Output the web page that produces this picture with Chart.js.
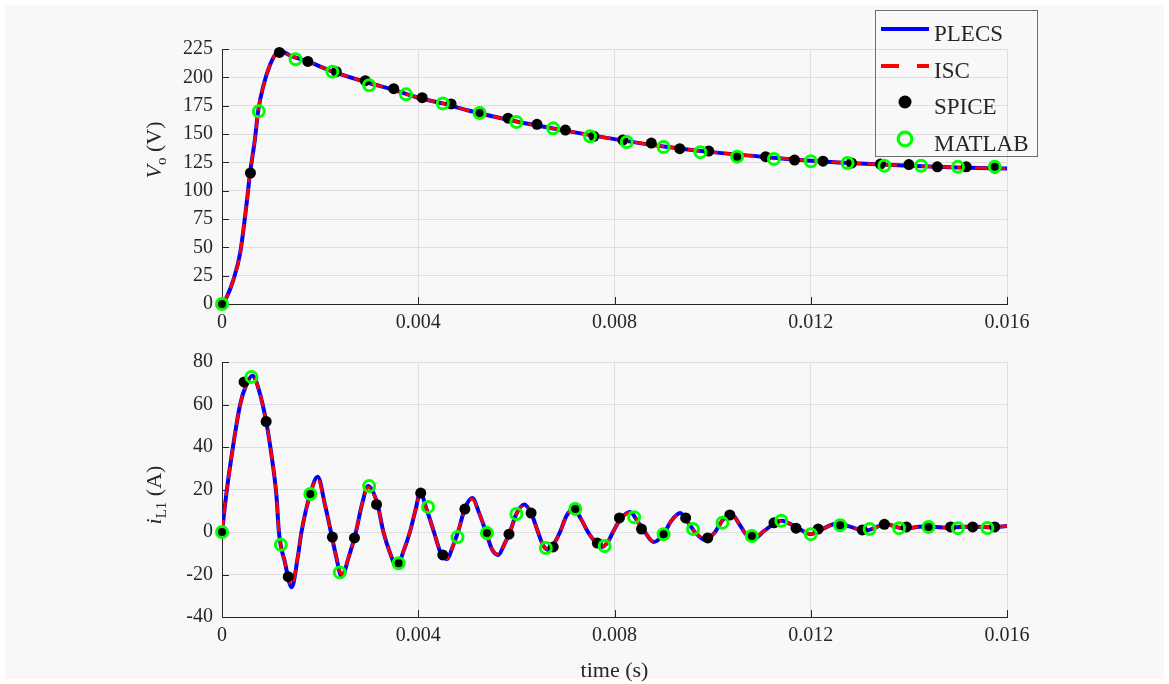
<!DOCTYPE html>
<html><head><meta charset="utf-8">
<script src="https://cdn.jsdelivr.net/npm/chart.js@4.4.1/dist/chart.umd.min.js"></script>
<style>
html,body{margin:0;padding:0;background:#fff;}
#wrap{position:relative;width:1169px;height:684px;overflow:hidden;}
canvas{position:absolute;left:0;}
#c1{top:0;} #c2{top:340px;}
</style></head><body>
<div id="wrap"><canvas id="c1" width="1169" height="340"></canvas><canvas id="c2" width="1169" height="344"></canvas></div>
<script>
// ---------- DATA ----------
// x tick labels
const xTicks = [0, 0.004, 0.008, 0.012, 0.016];
// --- Top panel: Vo (V)
const tPlecsVo = [0,0.0001,0.00023,0.00037,0.0005,0.00057,0.00067,0.00074,0.00084,0.00098,0.00111,0.0012,0.0014,0.00175,0.0022,0.003,0.0035,0.004,0.0045,0.005,0.006,0.007,0.008,0.009,0.010,0.011,0.012,0.013,0.014,0.015,0.016];
const plecsVo  = [0,6.5,21,45,88,115,145,171,192,211,221.5,223,219,214,206,195,189,182,177,171,161,153,145.5,139,134,130,126.5,124,122,120.5,119.5];
const tIscVo   = [0,0.0001,0.00023,0.00037,0.0005,0.00057,0.00067,0.00074,0.00084,0.00098,0.00111,0.0012,0.0014,0.00175,0.0022,0.003,0.0035,0.004,0.0045,0.005,0.006,0.007,0.008,0.009,0.010,0.011,0.012,0.013,0.014,0.015,0.016];
const iscVo    = [0,6.5,21,45,88,115,145,171,192,211,221.5,223,219,214,206,195,189,182,177,171,161,153,145.5,139,134,130,126.5,124,122,120.5,119.5];
const tSpiceVo = [0,0.00058,0.00117,0.00175,0.00233,0.00292,0.0035,0.00408,0.00467,0.00525,0.00583,0.00642,0.007,0.00758,0.00817,0.00875,0.00933,0.00992,0.0105,0.01108,0.01167,0.01225,0.01283,0.01342,0.014,0.01458,0.01517,0.01575];
const spiceVo  = [0,115.6,222,214,205,197,190,182,176.5,169.5,164,158.5,153.5,148,144.7,142,137,135,130,130,127,126,124.4,123.5,123,121,121,120];
const tMatlabVo = [0,0.00075,0.0015,0.00225,0.003,0.00375,0.0045,0.00525,0.006,0.00675,0.0075,0.00825,0.009,0.00975,0.0105,0.01125,0.012,0.01275,0.0135,0.01425,0.015,0.01575];
const matlabVo  = [0,170,216,205,193,185,177,168.5,160.6,155,148,143,138.5,134,130,128,126,124.4,122,122,121,121];
// --- Bottom panel: iL1 (A)
const tPlecsIL = [0,0.0001,0.00023,0.00037,0.00049,0.00062,0.00075,0.0009,0.00101,0.00111,0.00116,0.00128,0.00142,0.00155,0.00162,0.0018,0.00195,0.0021,0.00222,0.00232,0.00244,0.00258,0.00273,0.00285,0.00298,0.00317,0.00329,0.00344,0.00356,0.0037,0.00383,0.00394,0.00404,0.00418,0.00432,0.00446,0.00459,0.0047,0.00481,0.00495,0.0051,0.00524,0.00538,0.0055,0.00563,0.00575,0.00587,0.006,0.00616,0.0063,0.00644,0.00655,0.00667,0.00678,0.00689,0.00702,0.00717,0.00732,0.00746,0.00762,0.00775,0.00787,0.00797,0.00812,0.00832,0.00847,0.00862,0.0088,0.009,0.00915,0.00934,0.0095,0.00964,0.00985,0.01005,0.0102,0.0104,0.01055,0.01068,0.01086,0.01105,0.0114,0.01174,0.01199,0.0122,0.01254,0.0128,0.01311,0.01353,0.0139,0.0143,0.0148,0.0153,0.0157,0.016];
const plecsIL  = [0,20,41,60,69,73.5,67,52,36,17,0,-14,-26,-11,0,18,26,12.7,0,-10.8,-21,-12,0,12.7,21.6,13,0,-10.8,-16.5,-9,0,10,18.3,10,0,-10,-12.7,-7,0,11,16,9,0,-8,-10.8,-6,0,8.5,13,9,0,-6.5,-8.5,-5,0,7.5,10.8,6,0,-5,-7,-4.5,0,6,9.4,5,0,-4.7,-1,5,8.9,4.5,0,-3.8,0,5.5,8,3.5,-1,-2.8,0.5,5.3,1.8,-1,1,4,2.5,0.6,3.6,1.6,2.6,2.0,2.6,2.2,2.8];
const tIscIL   = tPlecsIL.slice();
const iscIL    = [0,20,41,60,69,73,67,52,36,17,0,-14,-25,-11,0,18,25,12.7,0,-10.8,-20,-12,0,12.7,21,13,0,-10.8,-16,-9,0,10,18,10,0,-10,-12.5,-7,0,11,15.5,9,0,-8,-10.5,-6,0,8.5,12.5,9,0,-6.5,-8.3,-5,0,7.5,10.5,6,0,-5,-6.8,-4.5,0,6,9.2,5,0,-4.5,-1,5,8.7,4.5,0,-3.6,0,5.5,7.8,3.5,-1,-2.6,0.5,5.1,1.8,-0.9,1,3.9,2.5,0.7,3.5,1.7,2.6,2.0,2.6,2.2,2.8];
const tSpiceIL = [0,0.00045,0.0009,0.00135,0.0018,0.00225,0.0027,0.00315,0.0036,0.00405,0.0045,0.00495,0.0054,0.00585,0.0063,0.00675,0.0072,0.00765,0.0081,0.00855,0.009,0.00945,0.0099,0.01035,0.0108,0.01125,0.0117,0.01215,0.0126,0.01305,0.0135,0.01395,0.0144,0.01485,0.0153,0.01575];
const spiceIL  = [0,70.6,52,-21,17.9,-2.4,-2.8,13,-14.7,18.3,-10.8,10.8,-0.5,-1,8.9,-7,10.8,-5.2,6.6,1.4,-1,6.6,-2.8,8,-2,4.3,1.8,1.4,3.2,1,3.6,2.4,2.4,2.4,2.4,2.4];
const tMatlabIL = [0,0.0006,0.0012,0.0018,0.0024,0.003,0.0036,0.0042,0.0048,0.0054,0.006,0.0066,0.0072,0.0078,0.0084,0.009,0.0096,0.0102,0.0108,0.0114,0.012,0.0126,0.0132,0.0138,0.0144,0.015,0.0156];
const matlabIL  = [0,73,-6,17.9,-19,21.6,-14.7,11.8,-2.4,-0.5,8.5,-7.5,10.8,-6.6,7,-1,1.4,4.3,-1.9,5.3,-1,3.2,1.4,1.8,2.4,1.8,1.9];
// y tick ranges
const voTicks = {min:0, max:225, step:25};
const ilTicks = {min:-40, max:80, step:20};

// ---------- RENDERING ----------
const SERIF = "'Liberation Serif','DejaVu Serif',serif";
const TXT = '#262626';
const GRID = '#dedede';
const FIGBG = '#f8f8f8';
const xy = (ts, vs) => ts.map((t, i) => ({x: t, y: vs[i]}));

function seriesSets(tP, vP, tI, vI, tS, vS, tM, vM) {
  return [
    {label:'PLECS', data:xy(tP, vP), borderColor:'#0000ff', backgroundColor:'#0000ff', borderWidth:4, pointRadius:0, cubicInterpolationMode:'monotone', order:4},
    {label:'ISC', data:xy(tI, vI), borderColor:'#ff0000', backgroundColor:'#ff0000', borderWidth:3, borderDash:[12,6], pointRadius:0, cubicInterpolationMode:'monotone', order:3},
    {label:'SPICE', data:xy(tS, vS), showLine:false, borderColor:'#000', pointRadius:5.5, pointBackgroundColor:'#000000', pointBorderColor:'#000000', pointBorderWidth:0, order:2, clip:false},
    {label:'MATLAB', data:xy(tM, vM), showLine:false, borderColor:'#00ff00', pointRadius:5.5, pointBackgroundColor:'rgba(0,0,0,0)', pointBorderColor:'#00ff00', pointBorderWidth:3, order:1, clip:false}
  ];
}

const bgPlugin = (y0, h) => ({
  id:'bg',
  beforeDraw(chart){
    const c = chart.ctx; c.save(); c.fillStyle = '#ffffff'; c.fillRect(0,0,chart.width,chart.height);
    c.fillStyle = FIGBG; c.fillRect(5, y0, 1159, h); c.restore();
  }
});

const tickPlugin = {
  id:'inticks',
  beforeDatasetsDraw(chart){
    const c = chart.ctx, a = chart.chartArea, xs = chart.scales.x, ys = chart.scales.y;
    c.save(); c.strokeStyle = TXT; c.lineWidth = 1; c.beginPath();
    xs.ticks.forEach(t => { const p = Math.round(xs.getPixelForValue(t.value)) + 0.5; c.moveTo(p, a.bottom); c.lineTo(p, a.bottom - 7); });
    ys.ticks.forEach(t => { const p = Math.round(ys.getPixelForValue(t.value)) + 0.5; c.moveTo(a.left, p); c.lineTo(a.left + 7, p); });
    c.stroke(); c.restore();
  }
};

// draw rotated y-label made of parts [{text, font, dy}]
function drawYLabel(c, parts, cx, cy, baseX) {
  c.save(); c.fillStyle = TXT;
  let total = 0; parts.forEach(p => { c.font = p.font; p.w = c.measureText(p.text).width; total += p.w; });
  c.translate(baseX, cy); c.rotate(-Math.PI/2);
  let x = -total/2; c.textBaseline = 'alphabetic'; c.textAlign = 'left';
  parts.forEach(p => { c.font = p.font; c.fillText(p.text, x, p.dy); x += p.w; });
  c.restore();
}

function scaleOpts(yr, xPad) {
  return {
    x: {type:'linear', min:0, max:0.016,
      afterBuildTicks: s => { s.ticks = xTicks.map(v => ({value:v})); },
      ticks:{autoSkip:false, maxRotation:0, padding:xPad, color:TXT, font:{family:SERIF, size:20, lineHeight:1.2},
        callback: v => v === 0 ? '0' : Number(v).toFixed(3)},
      grid:{color:GRID, lineWidth:1, drawTicks:false},
      border:{display:true, color:TXT, width:1},
      afterFit: s => { s.height = 36; }
    },
    y: {type:'linear', min:yr.min, max:yr.max,
      ticks:{stepSize:yr.step, padding:9, color:TXT, font:{family:SERIF, size:20, lineHeight:1.2}},
      grid:{color:GRID, lineWidth:1, drawTicks:false},
      border:{display:true, color:TXT, width:1},
      afterFit: s => { s.width = 222; }
    }
  };
}

const legendPlugin = {
  id:'mlegend',
  afterDraw(chart){
    const c = chart.ctx; c.save();
    c.strokeStyle = '#707070'; c.lineWidth = 1; c.strokeRect(875.5, 10.5, 162, 146);
    const items = [
      {name:'PLECS', y:29, kind:'line', color:'#0000ff', w:4, dash:[]},
      {name:'ISC', y:66, kind:'line', color:'#ff0000', w:4, dash:[18,18]},
      {name:'SPICE', y:102, kind:'dot'},
      {name:'MATLAB', y:139, kind:'ring'}
    ];
    items.forEach(it => {
      if (it.kind === 'line') {
        c.beginPath(); c.setLineDash(it.dash); c.strokeStyle = it.color; c.lineWidth = it.w;
        c.moveTo(881, it.y); c.lineTo(929, it.y); c.stroke(); c.setLineDash([]);
      } else if (it.kind === 'dot') {
        c.beginPath(); c.fillStyle = '#000'; c.arc(905, it.y, 6.5, 0, Math.PI*2); c.fill();
      } else {
        c.beginPath(); c.strokeStyle = '#00ff00'; c.lineWidth = 3.2; c.arc(905, it.y, 6.8, 0, Math.PI*2); c.stroke();
      }
      c.fillStyle = TXT; c.font = '23px ' + SERIF; c.textBaseline = 'alphabetic'; c.textAlign = 'left';
      c.fillText(it.name, 934, it.y + 12);
    });
    c.restore();
  }
};

const topLabel = {
  id:'toplabel',
  afterDraw(chart){
    drawYLabel(chart.ctx, [
      {text:'V', font:'italic 22px ' + SERIF, dy:0},
      {text:'o', font:'15px ' + SERIF, dy:5},
      {text:' (V)', font:'22px ' + SERIF, dy:0}
    ], 0, 150, 161);
  }
};
const botLabel = {
  id:'botlabel',
  afterDraw(chart){
    drawYLabel(chart.ctx, [
      {text:'i', font:'italic 22px ' + SERIF, dy:0},
      {text:'L1', font:'15px ' + SERIF, dy:5},
      {text:' (A)', font:'22px ' + SERIF, dy:0}
    ], 0, 155, 161);
    const c = chart.ctx; c.save(); c.fillStyle = TXT; c.font = '22px ' + SERIF; c.textAlign = 'center'; c.textBaseline = 'alphabetic';
    c.fillText('time (s)', 614.5, 336.5); c.restore();
  }
};

const common = {responsive:false, devicePixelRatio:1, animation:false, events:[],
  plugins:{legend:{display:false}, tooltip:{enabled:false}}};

new Chart(document.getElementById('c1'), {
  type:'line',
  data:{datasets: seriesSets(tPlecsVo, plecsVo, tIscVo, iscVo, tSpiceVo, spiceVo, tMatlabVo, matlabVo)},
  options:Object.assign({}, common, {layout:{padding:{top:49, left:0, right:162, bottom:0}}, scales:scaleOpts(voTicks, 7)}),
  plugins:[bgPlugin(5, 335), tickPlugin, legendPlugin, topLabel]
});
new Chart(document.getElementById('c2'), {
  type:'line',
  data:{datasets: seriesSets(tPlecsIL, plecsIL, tIscIL, iscIL, tSpiceIL, spiceIL, tMatlabIL, matlabIL)},
  options:Object.assign({}, common, {layout:{padding:{top:22, left:0, right:162, bottom:31}}, scales:scaleOpts(ilTicks, 7)}),
  plugins:[bgPlugin(0, 339), tickPlugin, botLabel]
});
</script>
</body></html>
